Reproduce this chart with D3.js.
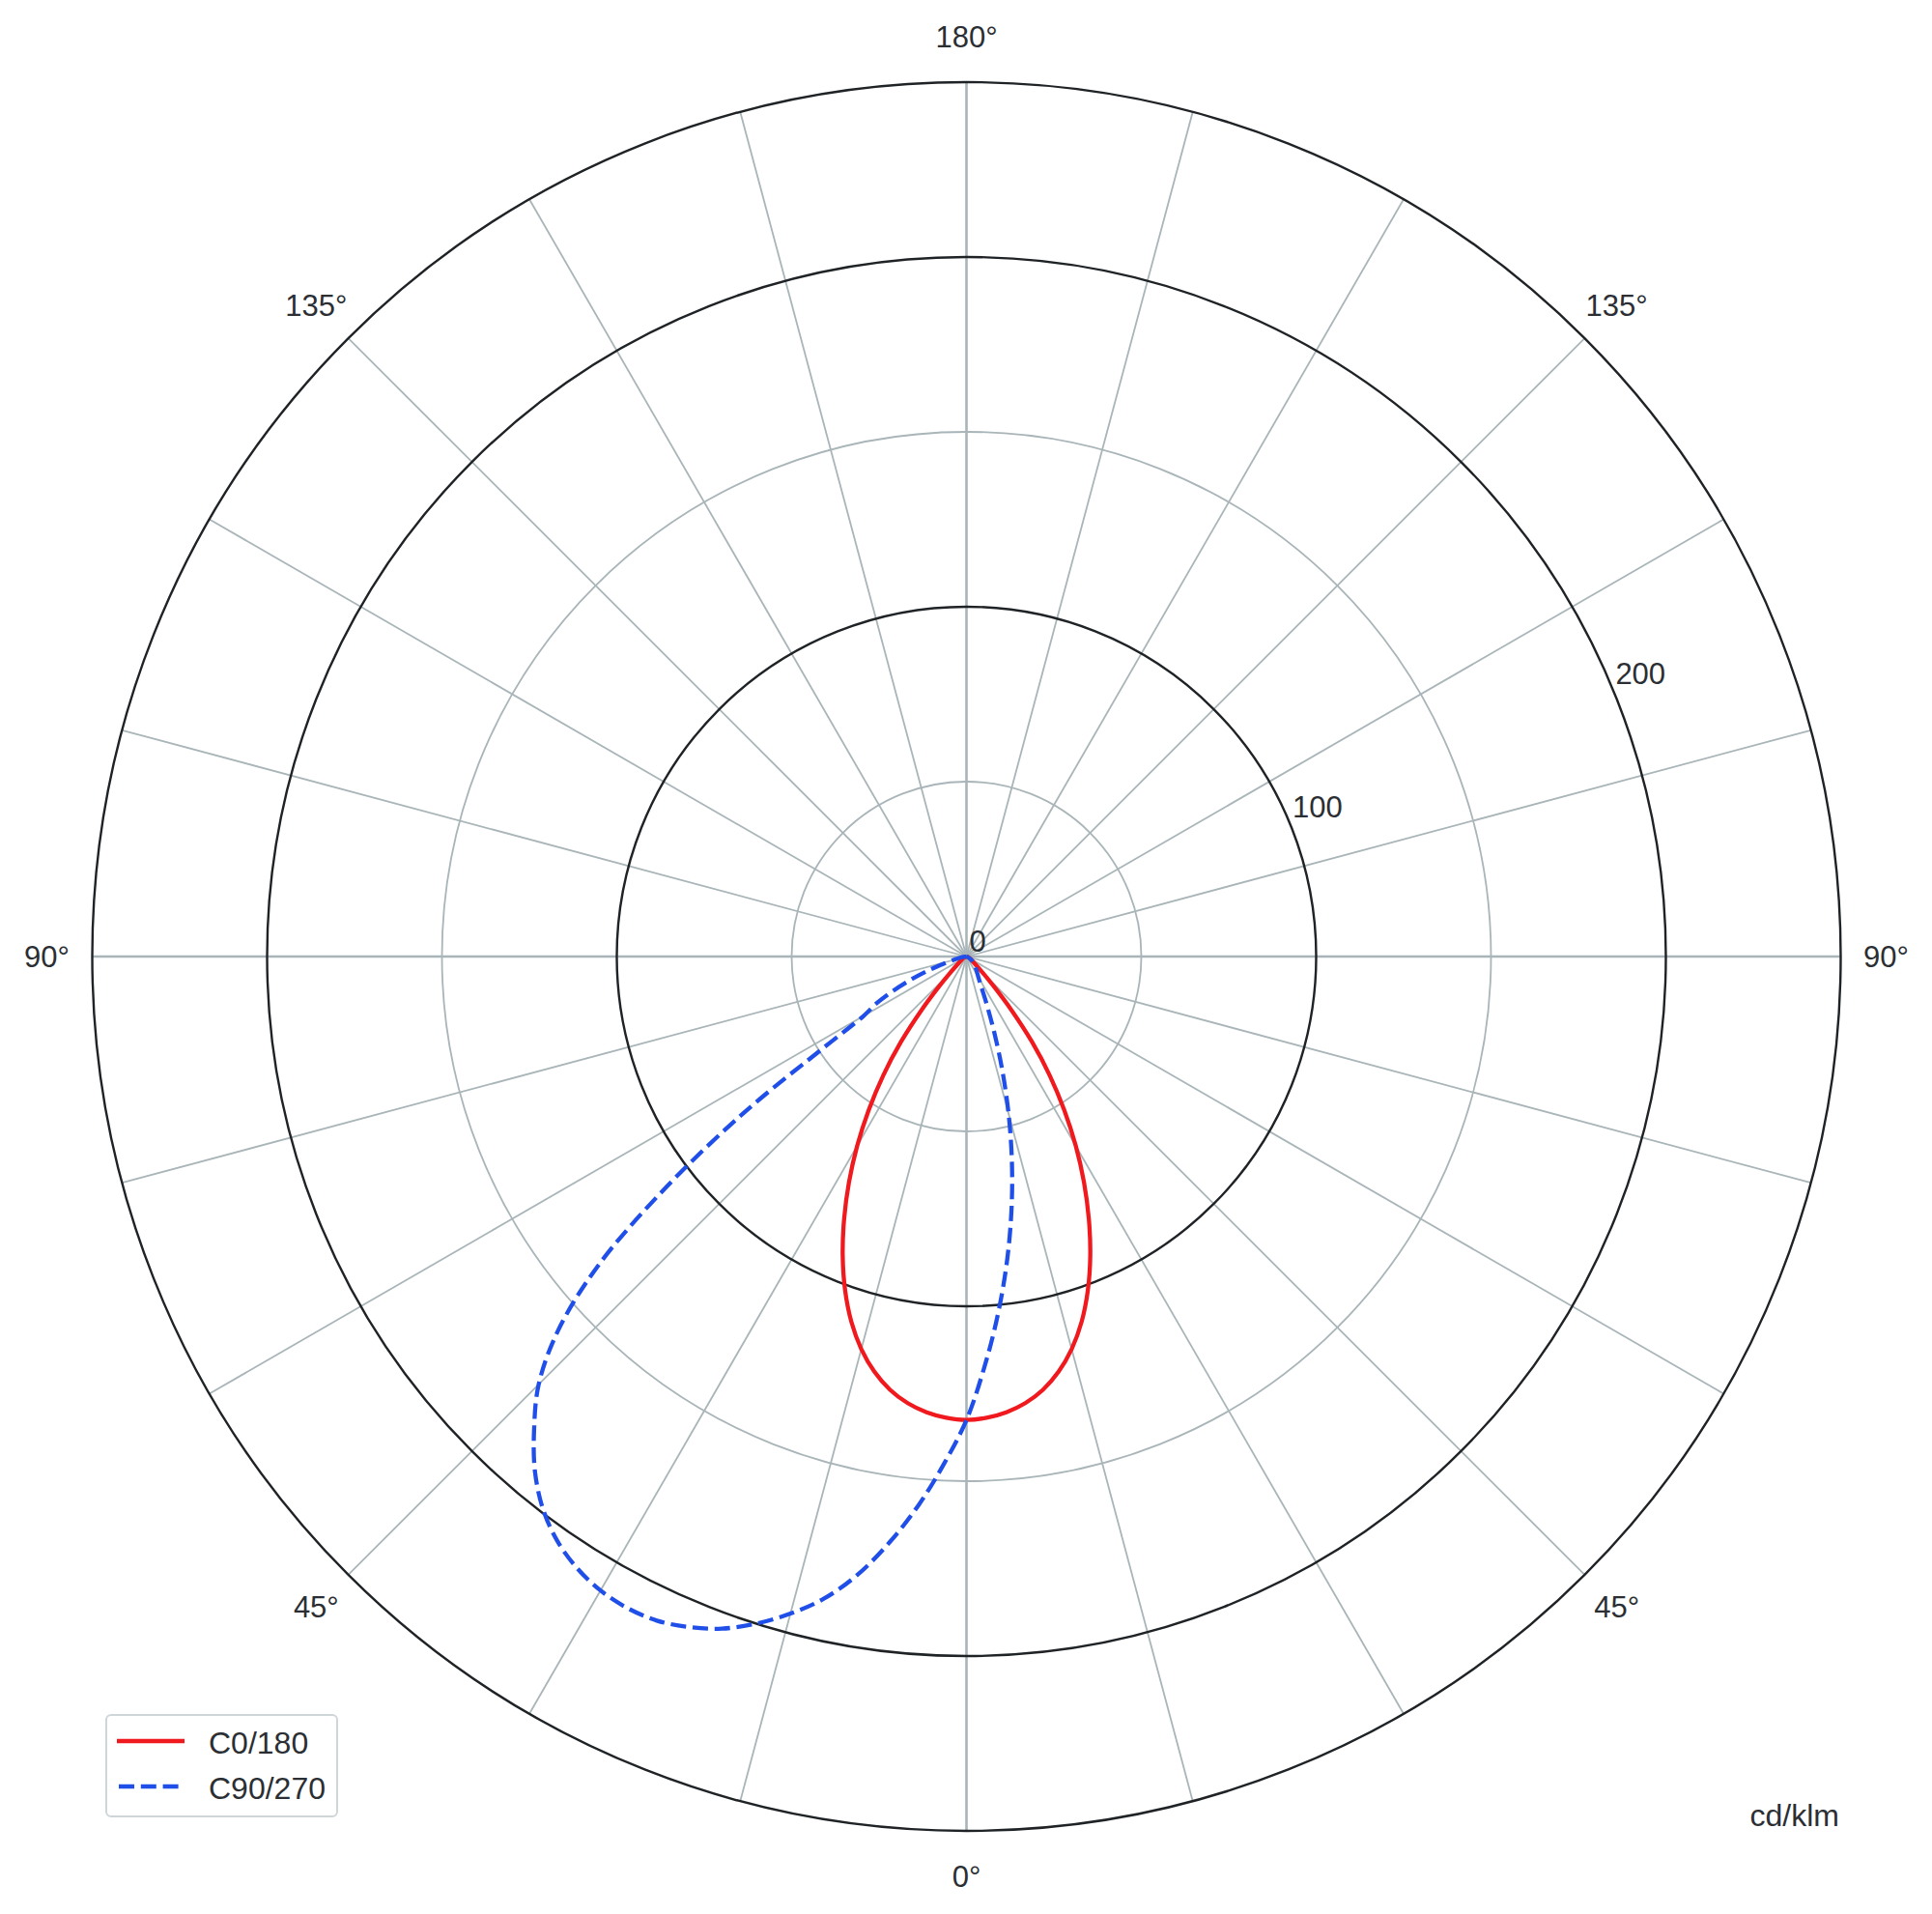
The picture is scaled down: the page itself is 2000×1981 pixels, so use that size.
<!DOCTYPE html>
<html><head><meta charset="utf-8">
<script src="https://cdn.jsdelivr.net/npm/d3@7"></script>
<style>html,body{margin:0;padding:0;background:#fff;} svg{display:block}</style>
</head><body>
<svg id="chart" width="2000" height="1981"></svg>
<script>
// Polar intensity data (cd/klm) at gamma angles (degrees from nadir), 2.5° steps 0..90
const gamma = [0,2.5,5,7.5,10,12.5,15,17.5,20,22.5,25,27.5,30,32.5,35,37.5,40,42.5,45,
               47.5,50,52.5,55,57.5,60,62.5,65,67.5,70,72.5,75,77.5,80,82.5,85,87.5,90];
const c0   = [132.5,132,130.8,128.8,125.8,121.6,116.2,109.5,101.5,92.5,82.8,72.8,62.5,52,41.5,30.8,20,11.5,6.5,
              4,2.8,2.2,1.8,1.5,1.2,1,0.8,0.6,0.4,0.2,0,0,0,0,0,0,0];
const c180 = [132.5,132,130.8,128.8,125.8,121.6,116.2,109.5,101.5,92.5,82.8,72.8,62.5,52,41.5,30.8,20,11.5,6.5,
              4,2.8,2.2,1.8,1.5,1.2,1,0.8,0.6,0.4,0.2,0,0,0,0,0,0,0];
const c90  = [132.5,117.5,102.8,88.3,74,60,46.5,34,23.5,15.8,11,8.3,6.8,5.8,5.1,4.5,4,3.6,3.2,
              2.8,2.4,2,1.6,1.2,0.9,0.6,0.4,0.2,0,0,0,0,0,0,0,0,0];
const c270 = [132.5,145,157.5,169,179.5,188,194.5,200,204.5,207.5,209.5,210,209.3,207.3,204,199,192,183,173,
              158.5,137.5,108,77,48,34,29,23,17,11.5,6.5,4,2.5,1.5,1,0.5,0.2,0];
const ringValues = [50,100,150,200,250];
const majorRings = [100,200,250];
const radialTickLabels = [0,100,200];
const angleTickLabels = [0,45,90,135,180];
const seriesNames = ["C0/180","C90/270"];
const unitLabel = "cd/klm";

const svg = d3.select("#chart");
const cx = 1000.5, cy = 990;
const rScale = d3.scaleLinear().domain([0,250]).range([0,905]);
const FONT = "'Liberation Sans', Arial, Helvetica, sans-serif";
const gridColor = "#a9b5b8";
const darkColor = "#1f2326";
const textColor = "#2b2f33";
const rad = d => d*Math.PI/180;
// screen angle: radians clockwise from up
const pt = (a, r) => [cx + r*Math.sin(a), cy - r*Math.cos(a)];

const g = svg.append("g");

// spokes
d3.range(0,360,15).forEach(d => {
  const [x,y] = pt(rad(d), rScale(250));
  g.append("line").attr("x1",cx).attr("y1",cy).attr("x2",x).attr("y2",y)
    .attr("stroke",gridColor).attr("stroke-width", d%90===0 ? 2.6 : 1.8);
});
// rings
ringValues.forEach(v => {
  const major = majorRings.includes(v);
  g.append("circle").attr("cx",cx).attr("cy",cy).attr("r",rScale(v))
    .attr("fill","none").attr("stroke", major ? darkColor : gridColor)
    .attr("stroke-width", major ? 2.4 : 1.8);
});

// radial tick labels
const tickA = rad(67.5);
radialTickLabels.forEach(v => {
  const [x,y] = pt(tickA, rScale(v));
  g.append("text").attr("x", x+3).attr("y", y-5).text(v)
    .attr("font-family",FONT).attr("font-size",31).attr("fill",textColor);
});

// angle labels
const Rlab = 952;
angleTickLabels.forEach(v => {
  const sides = (v===0 || v===180) ? [Math.PI - rad(v)] : [Math.PI - rad(v), Math.PI + rad(v)];
  sides.forEach(a => {
    const [x,y] = pt(a, Rlab);
    g.append("text").attr("x",x).attr("y",y).attr("text-anchor","middle")
      .attr("dominant-baseline","central").text(v + "°")
      .attr("font-family",FONT).attr("font-size",31).attr("fill",textColor);
  });
});

// build curve: left half (gamma 90->0) then right half (0->90)
function curvePoints(left, right) {
  const pts = [];
  for (let i = gamma.length-1; i >= 1; i--) pts.push([Math.PI + rad(gamma[i]), rScale(left[i])]);
  for (let i = 0; i < gamma.length; i++) pts.push([Math.PI - rad(gamma[i]), rScale(right[i])]);
  return pts;
}
const line = d3.lineRadial().angle(d=>d[0]).radius(d=>d[1]).curve(d3.curveCatmullRom.alpha(0.5));
const plot = g.append("g").attr("transform",`translate(${cx},${cy})`);
plot.append("path").attr("d", line(curvePoints(c180, c0)))
  .attr("fill","none").attr("stroke","#f0191e").attr("stroke-width",4.3).attr("stroke-linejoin","round");
plot.append("path").attr("d", line(curvePoints(c270, c90)))
  .attr("fill","none").attr("stroke","#1f4fe8").attr("stroke-width",4.3)
  .attr("stroke-dasharray","16,6.8");

// legend
const lg = svg.append("g");
lg.append("rect").attr("x",110).attr("y",1775).attr("width",239).attr("height",105)
  .attr("rx",5).attr("fill","#fff").attr("fill-opacity",0.85).attr("stroke","#cfd6d8").attr("stroke-width",2);
lg.append("line").attr("x1",121).attr("x2",191).attr("y1",1802).attr("y2",1802)
  .attr("stroke","#f0191e").attr("stroke-width",4.3);
lg.append("line").attr("x1",123).attr("x2",191).attr("y1",1849).attr("y2",1849)
  .attr("stroke","#1f4fe8").attr("stroke-width",4.3).attr("stroke-dasharray","16,6.8");
lg.append("text").attr("x",216).attr("y",1815).text(seriesNames[0])
  .attr("font-family",FONT).attr("font-size",32).attr("fill",textColor);
lg.append("text").attr("x",216).attr("y",1862).text(seriesNames[1])
  .attr("font-family",FONT).attr("font-size",32).attr("fill",textColor);

// unit label
svg.append("text").attr("x",1904).attr("y",1890).attr("text-anchor","end").text(unitLabel)
  .attr("font-family",FONT).attr("font-size",32).attr("fill",textColor);
</script>
</body></html>
